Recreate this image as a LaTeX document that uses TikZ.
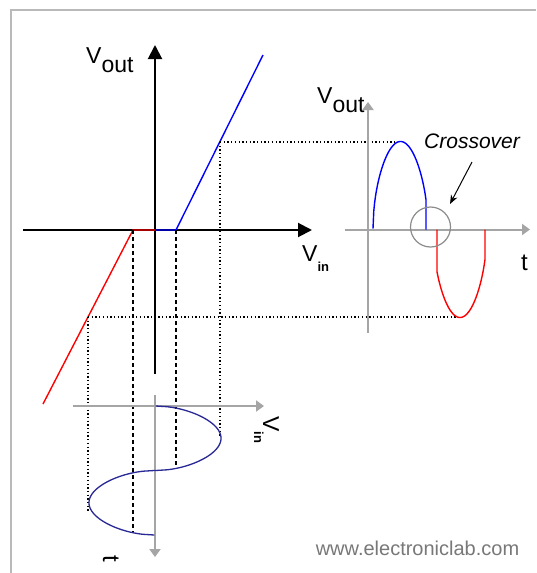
\documentclass[tikz,border=0pt]{standalone}
\usepackage{fontspec}
\setmainfont{Liberation Sans}
\usetikzlibrary{arrows.meta}
\definecolor{sinenavy}{RGB}{40,40,150}
\definecolor{axgray}{RGB}{165,165,165}
\definecolor{framegray}{RGB}{185,185,185}
\definecolor{wmgray}{RGB}{120,120,120}
\definecolor{circgray}{RGB}{140,140,140}
\begin{document}
\begin{tikzpicture}[x=1pt,y=-1pt,
  mainaxis/.style={black,line width=2pt,-{Triangle[length=14pt,width=14pt]}},
  grayaxis/.style={axgray,line width=2pt,-{Triangle[length=8pt,width=11pt]}},
  dashline/.style={black,line width=1.5pt,dash pattern=on 4pt off 3pt},
  dotline/.style={black,line width=1.3pt,dash pattern=on 1.3pt off 2.4pt},
  lbl/.style={inner sep=0pt,font=\fontsize{23}{25}\selectfont},
  subin/.style={font=\fontsize{13}{14}\selectfont\bfseries},
  bluecurve/.style={blue,line width=1.4pt},
  redcurve/.style={red,line width=1.4pt},
  sinecurve/.style={sinenavy,line width=1.3pt}]
\fill[white] (0,0) rectangle (536,573);
\useasboundingbox (0,0) rectangle (536,573);
% frame
\draw[framegray,line width=2pt] (11,573) -- (11,10) -- (536,10);
% main axes
\coordinate (O) at (155,230);
\coordinate (ytop) at (155,45);
\coordinate (ybot) at (155,374);
\coordinate (xleft) at (23,230);
\coordinate (xright) at (312,230);
\draw[mainaxis] (ybot) -- (ytop);
\draw[mainaxis] (xleft) -- (xright);
% transfer characteristic
\coordinate (kneeL) at (133,230);
\coordinate (kneeR) at (176,230);
\coordinate (redend) at (43,404);
\coordinate (blueend) at (263,55);
\draw[redcurve] (redend) -- (kneeL) -- (O);
\draw[bluecurve] (O) -- (kneeR) -- (blueend);
% projection lines
\coordinate (dL) at (133,533);
\coordinate (dR) at (176,468);
\draw[dashline] (kneeL) -- (dL);
\draw[dashline] (kneeR) -- (dR);
\coordinate (pTop) at (220,142);
\coordinate (pTopDown) at (220,437);
\coordinate (pTopRight) at (397,142);
\coordinate (pBot) at (88,317);
\coordinate (pBotDown) at (88,513);
\coordinate (pBotRight) at (457,317);
\draw[dotline] (pTop) -- (pTopDown);
\draw[dotline] (pTop) -- (pTopRight);
\draw[dotline] (pBot) -- (pBotDown);
\draw[dotline] (pBot) -- (pBotRight);
% input graph (rotated)
\coordinate (inL) at (73,406);
\coordinate (inR) at (264,406);
\coordinate (inT) at (155,395);
\coordinate (inB) at (155,557);
\draw[grayaxis] (inL) -- (inR);
\draw[grayaxis] (inT) -- (inB);
\draw[sinecurve] plot[domain=0:64.5,samples=90] ({155+66*sqrt(abs(sin(2.790698*\x))+0.0001)},{406+\x})
  -- plot[domain=64.5:129,samples=90] ({155-66*sqrt(abs(sin(2.790698*\x))+0.0001)},{406+\x});
% output graph
\coordinate (oT) at (368,102);
\coordinate (oB) at (368,333);
\coordinate (oL) at (345,229.5);
\coordinate (oR) at (530,229.5);
\draw[grayaxis] (oB) -- (oT);
\draw[grayaxis] (oL) -- (oR);
\draw[bluecurve] plot[domain=0:53,samples=70] ({373+\x},{229.5-88*sqrt(abs(sin(3.272727*\x))+0.0001)}) -- (426,229.5);
\draw[redcurve] (437,229.5) -- plot[domain=4:52,samples=60] ({433+\x},{229.5+88*sqrt(abs(sin(3.333333*\x))+0.0001)}) -- (485,229.5);
\coordinate (cc) at (430.5,227);
\draw[circgray,line width=1.2pt] (cc) circle[radius=20];
\coordinate (arrS) at (472,162);
\coordinate (arrE) at (450,204);
\draw[black,line width=1pt,-{Stealth[length=9pt,width=7pt]}] (arrS) -- (arrE);
% labels
\node[lbl,anchor=base west] (voutA) at (86,63) {V\raisebox{-9pt}{out}};
\node[lbl,anchor=base west] (voutB) at (317,103) {V\raisebox{-9pt}{out}};
\node[lbl,anchor=base west] (vinA) at (302,261.5) {V\raisebox{-10pt}{\fontsize{13}{14}\selectfont\bfseries in}};
\node[lbl,anchor=base west,rotate=-90] (vinB) at (263,416) {V\raisebox{-9pt}{\fontsize{13}{14}\selectfont\bfseries in}};
\node[lbl,anchor=base west,font=\fontsize{24}{26}\selectfont] (tA) at (521,270) {t};
\node[lbl,anchor=base west,rotate=-90,font=\fontsize{24}{26}\selectfont] (tB) at (103,555) {t};
\node[inner sep=0pt,anchor=base west,font=\fontsize{21}{24}\selectfont\itshape] (cross) at (424,148) {Crossover};
\node[inner sep=0pt,anchor=base,text=wmgray,font=\fontsize{20}{22}\selectfont] (wm) at (417.5,555) {www.electroniclab.com};
\end{tikzpicture}
\end{document}
